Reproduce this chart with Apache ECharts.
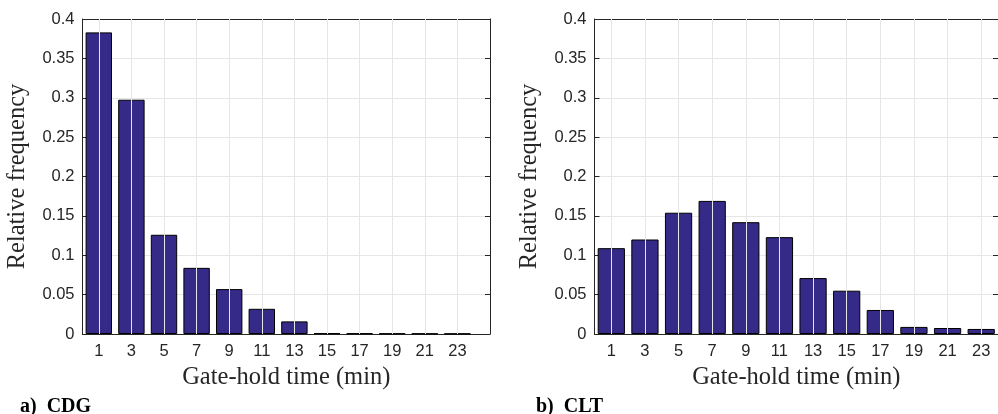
<!DOCTYPE html>
<html>
<head>
<meta charset="utf-8">
<script src="https://cdn.jsdelivr.net/npm/echarts@6/dist/echarts.min.js"></script>
<style>
html,body{margin:0;padding:0;background:#fff;}
#c{width:998px;height:414px;}
</style>
</head>
<body>
<div id="c"></div>
<script>
var gateHold = [1, 3, 5, 7, 9, 11, 13, 15, 17, 19, 21, 23];
var freqCDG = [0.383, 0.2975, 0.126, 0.084, 0.057, 0.032, 0.016, 0.001, 0.0008, 0.0006, 0.0005, 0.0004];
var freqCLT = [0.109, 0.120, 0.154, 0.169, 0.142, 0.123, 0.071, 0.055, 0.0305, 0.009, 0.0076, 0.0064];
var panelTitles = ['a)  CDG', 'b)  CLT'];
var xName = 'Gate-hold time (min)';
var yName = 'Relative frequency';
var xMax = [25, 24];

var axisColor = '#262626';
var gridColor = '#e6e6e6';
var barColor = '#352a87';

function pairs(xs, ys){ return xs.map(function(x,i){ return [x, ys[i]]; }); }

var grids = [
  {left: 82.5, top: 19, width: 407.5, height: 315},
  {left: 594.5, top: 19, width: 407.5, height: 315}
];

var xAxes = [], yAxes = [], series = [];
[0,1].forEach(function(g){
  xAxes.push({
    type: 'value', gridIndex: g, min: 0, max: xMax[g], position: 'bottom',
    axisLine: {show: true, onZero: false, lineStyle: {color: axisColor, width: 1}},
    axisTick: {show: true, inside: true, length: 5, customValues: gateHold, lineStyle: {color: axisColor}},
    axisLabel: {show: true, customValues: gateHold, margin: 9, fontFamily: 'Liberation Sans', fontSize: 16.5, color: axisColor},
    splitLine: {show: false},
    name: xName, nameLocation: 'middle', nameGap: 30,
    nameTextStyle: {fontFamily: 'Liberation Serif', fontSize: 24.5, color: axisColor}
  });
  xAxes.push({
    type: 'value', gridIndex: g, min: 0, max: xMax[g], position: 'top',
    axisLine: {show: true, onZero: false, lineStyle: {color: axisColor, width: 1}},
    axisTick: {show: true, inside: true, length: 5, customValues: gateHold, lineStyle: {color: axisColor}},
    axisLabel: {show: false},
    splitLine: {show: false}
  });
  yAxes.push({
    type: 'value', gridIndex: g, min: 0, max: 0.4, interval: 0.05, position: 'left',
    axisLine: {show: true, onZero: false, lineStyle: {color: axisColor, width: 1}},
    axisTick: {show: true, inside: true, length: 5, lineStyle: {color: axisColor}},
    axisLabel: {margin: 8, fontFamily: 'Liberation Sans', fontSize: 16.5, color: axisColor},
    splitLine: {show: true, lineStyle: {color: gridColor, width: 1}},
    name: yName, nameLocation: 'middle', nameGap: 52,
    nameTextStyle: {fontFamily: 'Liberation Serif', fontSize: 24.5, color: axisColor}
  });
  yAxes.push({
    type: 'value', gridIndex: g, min: 0, max: 0.4, interval: 0.05, position: 'right',
    axisLine: {show: true, onZero: false, lineStyle: {color: axisColor, width: 1}},
    axisTick: {show: true, inside: true, length: 5, lineStyle: {color: axisColor}},
    axisLabel: {show: false},
    splitLine: {show: false}
  });
  // vertical grid lines at the tick positions
  series.push({
    type: 'scatter', xAxisIndex: g*2, yAxisIndex: g*2, data: [], z: 1, silent: true,
    markLine: {
      silent: true, symbol: ['none','none'], label: {show: false},
      lineStyle: {color: gridColor, width: 1, type: 'solid'},
      data: gateHold.map(function(v){ return {xAxis: v}; })
    }
  });
  series.push({
    type: 'bar', xAxisIndex: g*2, yAxisIndex: g*2, z: 3,
    data: pairs(gateHold, g === 0 ? freqCDG : freqCLT),
    barWidth: '81%',
    itemStyle: {color: barColor, borderColor: '#000', borderWidth: 1},
    emphasis: {disabled: true}
  });
});

var chart = echarts.init(document.getElementById('c'), null, {renderer: 'canvas'});
chart.setOption({
  animation: false,
  backgroundColor: '#fff',
  title: [
    {text: panelTitles[0], left: 15, top: 392, textStyle: {fontFamily: 'Liberation Serif', fontWeight: 'bold', fontSize: 20, color: '#000'}},
    {text: panelTitles[1], left: 531, top: 392, textStyle: {fontFamily: 'Liberation Serif', fontWeight: 'bold', fontSize: 20, color: '#000'}}
  ],
  grid: grids,
  xAxis: xAxes,
  yAxis: yAxes,
  series: series
});
</script>
</body>
</html>
